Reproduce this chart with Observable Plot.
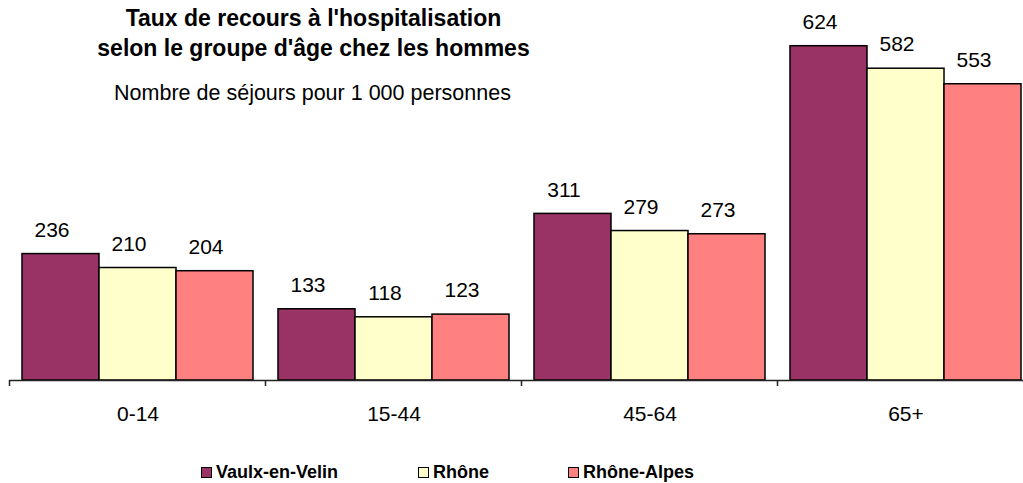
<!DOCTYPE html>
<html>
<head>
<meta charset="utf-8">
<script src="https://cdn.jsdelivr.net/npm/d3@7"></script>
<script src="https://cdn.jsdelivr.net/npm/@observablehq/plot@0.6"></script>
<style>
  html, body { margin: 0; padding: 0; background: #fff; overflow: hidden; }
  #wrap { position: relative; width: 1023px; height: 483px; font-family: Arial, "Liberation Sans", sans-serif; color: #000; }
  #wrap svg { position: absolute; left: 0; top: 0; }
  .title { position: absolute; left: 0; width: 627px; text-align: center; font-weight: bold; font-size: 23px; line-height: 30px; top: 3px; }
  .subtitle { position: absolute; left: 0; width: 625px; text-align: center; font-size: 21.5px; line-height: 26px; top: 80px; }
  .legend { position: absolute; top: 462px; left: 0; font-weight: bold; font-size: 18px; line-height: 20px; }
  .legend span.item { position: absolute; white-space: nowrap; display: flex; align-items: center; }
  .legend i { display: inline-block; width: 9px; height: 9px; border: 1px solid #000; margin-right: 4px; }
</style>
</head>
<body>
<div id="wrap">
  <div class="title">Taux de recours à l'hospitalisation<br>selon le groupe d'âge chez les hommes</div>
  <div class="subtitle">Nombre de séjours pour 1 000 personnes</div>
  <div class="legend" id="legend"></div>
</div>
<script>
const groups = ["0-14", "15-44", "45-64", "65+"];
const series = ["Vaulx-en-Velin", "Rhône", "Rhône-Alpes"];
const vaulx = [236, 133, 311, 624];
const rhone = [210, 118, 279, 582];
const rhoneAlpes = [204, 123, 273, 553];
const colors = ["#993366", "#FFFFCC", "#FF8080"];

const valuesBySeries = [vaulx, rhone, rhoneAlpes];
const data = groups.flatMap((g, i) =>
  series.map((s, j) => ({group: g, series: s, value: valuesBySeries[j][i]}))
);

const chart = Plot.plot({
  width: 1023,
  height: 483,
  marginLeft: 9,
  marginRight: -10,
  marginTop: 5,
  marginBottom: 103,
  style: {fontFamily: "Arial, 'Liberation Sans', sans-serif", fontSize: "21px", color: "#000", background: "transparent"},
  fx: {domain: groups, paddingInner: 0.0977, paddingOuter: 0.0488, label: null, tickSize: 0, tickPadding: 25.5, axis: "bottom"},
  x: {domain: series, padding: 0, axis: null},
  y: {domain: [0, 700], axis: null},
  color: {domain: series, range: colors},
  marks: [
    Plot.barY(data, {fx: "group", x: "series", y: "value", fill: "series", stroke: "#000", strokeWidth: 1.5}),
    Plot.text(data, {fx: "group", x: "series", y: "value", text: d => String(d.value), dy: -24, dx: -9, fontSize: 21, fill: "#000"}),
    Plot.ruleY([0], {stroke: "#222", strokeWidth: 1.5, insetLeft: -13, insetRight: -12}),
    Plot.ruleX([series[0]], {x: d => d, y1: 0, y2: 0, insetBottom: -6, dx: -51.5, stroke: "#222", strokeWidth: 1.5})
  ]
});
document.getElementById("wrap").appendChild(chart);

const legend = document.getElementById("legend");
const offsets = [201, 418, 568];
series.forEach((s, j) => {
  const item = document.createElement("span");
  item.className = "item";
  item.style.left = offsets[j] + "px";
  const sw = document.createElement("i");
  sw.style.background = colors[j];
  item.appendChild(sw);
  item.appendChild(document.createTextNode(s));
  legend.appendChild(item);
});
</script>
</body>
</html>
